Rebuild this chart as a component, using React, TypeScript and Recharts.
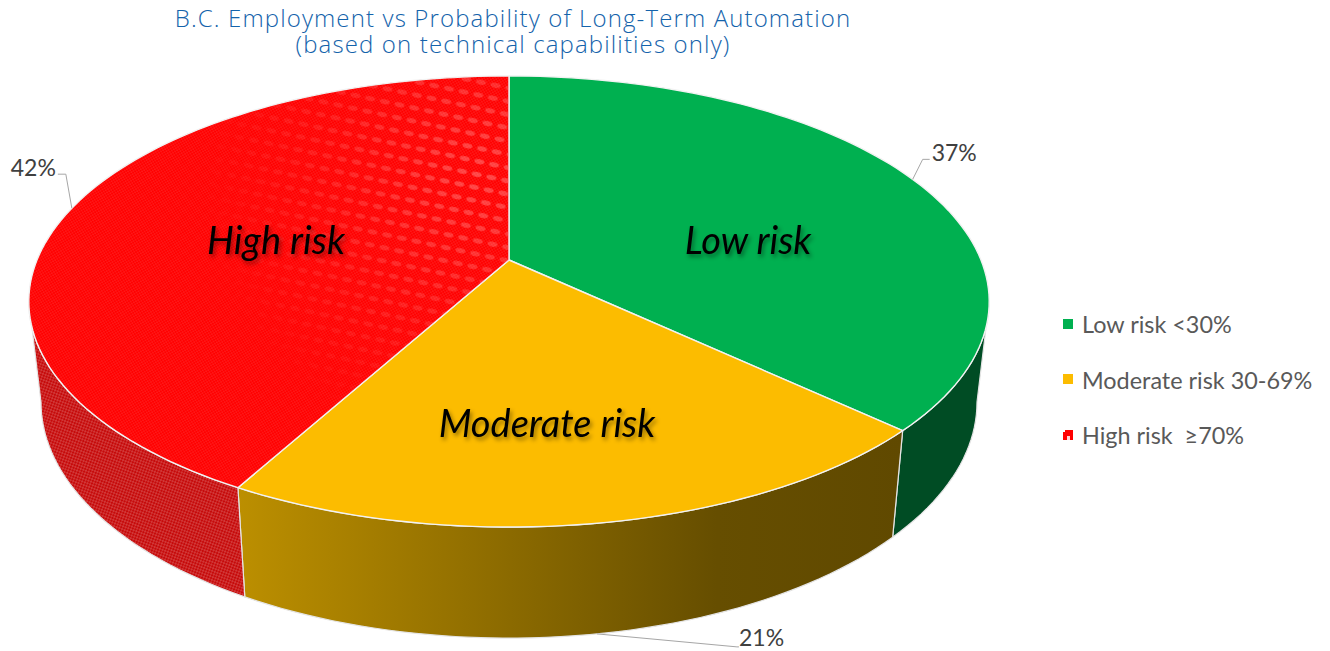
import { PieChart, Pie, Legend } from 'recharts';

const categories = ['Low risk', 'Moderate risk', 'High risk'];
const legendLabels = ['Low risk <30%', 'Moderate risk 30-69%', 'High risk  \u226570%'];
const shares = [37, 21, 42];

const topFills = ['#00b050', '#fcbc00', 'url(#redTop)'];
const wallFills = ['#004c24', 'url(#amberWall)', 'url(#redWall)'];
const sheenFills = [null, null, 'url(#redBlobs)'];

const pieData = categories.map((name, i) => ({
  name,
  value: shares[i],
  fill: topFills[i],
  wall: wallFills[i],
  sheen: sheenFills[i],
}));

const CX = 509;
const CY = 260;
const RADIUS = 472;

// fake 3D: the disc goes through a small perspective divide, the base disc sits lower
const TILT = 0.184;
const TOP_Y = 0.4617;
const BASE_X = 0.9746;
const BASE_Y = 0.483;
const BASE_DROP = 98.7;
// polar angles where the rim turns away from the viewer
const WALL_FROM = -10.6;
const WALL_TO = -169.4;

const RAD = Math.PI / 180;

const projectTop = (deg: number) => {
  const u = Math.cos(deg * RAD);
  const v = -Math.sin(deg * RAD);
  const w = 1 - TILT * v;
  return { x: CX + (RADIUS * u) / w, y: CY + (RADIUS * TOP_Y * v) / w };
};

const projectBase = (deg: number) => {
  const u = Math.cos(deg * RAD);
  const v = -Math.sin(deg * RAD);
  const w = 1 - TILT * v;
  return { x: CX + (RADIUS * BASE_X * u) / w, y: CY + BASE_DROP + (RADIUS * BASE_Y * v) / w };
};

const arcPoints = (from: number, to: number, project: (deg: number) => { x: number; y: number }) => {
  const steps = Math.max(2, Math.ceil(Math.abs(to - from) / 1.5));
  const pts: string[] = [];
  for (let i = 0; i <= steps; i++) {
    const p = project(from + ((to - from) * i) / steps);
    pts.push(`${p.x.toFixed(2)} ${p.y.toFixed(2)}`);
  }
  return pts;
};

const SliceShape = (props: any) => {
  const { startAngle, endAngle, fill, wall, sheen } = props;
  const top = `M${CX} ${CY} L${arcPoints(startAngle, endAngle, projectTop).join(' L')} Z`;

  const from = Math.min(startAngle, WALL_FROM);
  const to = Math.max(endAngle, WALL_TO);
  let side = null;
  if (from > to) {
    const d = [...arcPoints(from, to, projectTop), ...arcPoints(to, from, projectBase)];
    side = <path d={`M${d.join(' L')} Z`} fill={wall} stroke="#e4e4e4" strokeWidth={1.2} strokeLinejoin="round" />;
  }
  return (
    <g>
      {side}
      <path d={top} fill={fill} stroke="#f2f2f2" strokeWidth={1.4} strokeLinejoin="round" />
      {sheen && <path d={top} fill={sheen} mask="url(#sheenFade)" />}
    </g>
  );
};

// name position relative to the pie centre, and the elbow/end of each leader line
const nameOffsets = [[239, -21], [38, 162], [-233, -21]];
const leaderBends = [[10, -20], [140, 13], [-6, -34]];
const leaderEnds = [[17, -20], [142, 13], [-14, -34]];
const valueOffsets = [[19, -27], [142, 3], [-16, -41]];
const valueAnchors = ['start', 'start', 'end'];

const renderLabel = (props: any) => {
  const { midAngle, index, value, name } = props;
  const rim = index === 1 ? projectBase(midAngle) : projectTop(midAngle);
  const bend = leaderBends[index];
  const end = leaderEnds[index];
  const off = valueOffsets[index];
  return (
    <g>
      <text
        x={CX + nameOffsets[index][0]}
        y={CY + nameOffsets[index][1]}
        textAnchor="middle"
        dominantBaseline="central"
        fontFamily="Lato"
        fontStyle="italic"
        fontSize={38}
        fill="#000"
        style={{ filter: 'drop-shadow(2px 3px 2px rgba(0,0,0,0.4))' }}
      >
        {name}
      </text>
      <polyline
        points={`${rim.x},${rim.y} ${rim.x + bend[0]},${rim.y + bend[1]} ${rim.x + end[0]},${rim.y + end[1]}`}
        fill="none"
        stroke="#a6a6a6"
        strokeWidth={1}
      />
      <text
        x={rim.x + off[0]}
        y={rim.y + off[1]}
        textAnchor={valueAnchors[index] as any}
        dominantBaseline="central"
        fontFamily="Lato"
        fontSize={23}
        fill="#404040"
      >
        {value}%
      </text>
    </g>
  );
};

const renderLegend = ({ payload }: any) => (
  <div>
    {(payload || []).map((item: any) => (
      <div key={item.value} style={{ display: 'flex', alignItems: 'center', height: 55.5 }}>
        <svg width={19} height={11} style={{ flex: 'none' }}>
          <rect width={10} height={10} fill={item.value === 'High risk' ? 'url(#redIcon)' : item.color} />
        </svg>
        <span style={{ fontFamily: 'Lato', fontSize: 23.4, color: '#595959', whiteSpace: 'pre' }}>
          {legendLabels[categories.indexOf(item.value)]}
        </span>
      </div>
    ))}
  </div>
);

const titleStyle = { fontFamily: 'Open Sans', fontSize: 24, fontWeight: 300, letterSpacing: 1.13, fill: '#1463ab' };

export default function App() {
  return (
    <div style={{ position: 'absolute', left: 0, top: 0 }}>
      <PieChart width={1330} height={651} margin={{ top: 0, right: 0, bottom: 0, left: 0 }}>
        <defs>
          <pattern id="redTop" width={3.4} height={3.4} patternUnits="userSpaceOnUse" patternTransform="rotate(14)">
            <rect width={3.4} height={3.4} fill="#ff0000" />
            <circle cx={0.85} cy={0.85} r={0.42} fill="#ff9a9a" />
            <circle cx={2.55} cy={2.55} r={0.42} fill="#ff9a9a" />
          </pattern>
          <pattern id="redWall" width={4} height={4} patternUnits="userSpaceOnUse" patternTransform="rotate(-25)">
            <rect width={4} height={4} fill="#c60a0a" />
            <circle cx={1} cy={1} r={0.7} fill="#e58a8a" />
            <circle cx={3} cy={3} r={0.7} fill="#e58a8a" />
          </pattern>
          <pattern id="redBlobs" width={15} height={13} patternUnits="userSpaceOnUse" patternTransform="rotate(12)">
            <ellipse cx={7.5} cy={6.5} rx={5} ry={2.4} fill="#ff9a9a" fillOpacity={0.5} />
          </pattern>
          <radialGradient id="sheenGlow" gradientUnits="userSpaceOnUse" cx={480} cy={175} r={280}>
            <stop offset="0%" stopColor="#fff" stopOpacity={0.9} />
            <stop offset="55%" stopColor="#fff" stopOpacity={0.35} />
            <stop offset="100%" stopColor="#fff" stopOpacity={0} />
          </radialGradient>
          <mask id="sheenFade" maskUnits="userSpaceOnUse" x={0} y={0} width={1330} height={651}>
            <rect width={1330} height={651} fill="url(#sheenGlow)" />
          </mask>
          <pattern id="redIcon" width={10} height={10} patternUnits="userSpaceOnUse">
            <rect width={10} height={10} fill="#ff0000" />
            <rect x={4} y={6} width={3} height={4} fill="#ffd0d0" />
            <rect width={2} height={2} fill="#ffffff" />
          </pattern>
          <linearGradient id="amberWall" x1="0" y1="0" x2="1" y2="0">
            <stop offset="0%" stopColor="#bc8f00" />
            <stop offset="72%" stopColor="#664e00" />
            <stop offset="100%" stopColor="#604900" />
          </linearGradient>
        </defs>
        <text x={513} y={27} textAnchor="middle" {...titleStyle}>
          B.C. Employment vs Probability of Long-Term Automation
        </text>
        <text x={513} y={53} textAnchor="middle" {...titleStyle}>
          (based on technical capabilities only)
        </text>
        <Pie
          data={pieData}
          dataKey="value"
          nameKey="name"
          cx={CX}
          cy={CY}
          outerRadius={RADIUS}
          startAngle={90}
          endAngle={-270}
          stroke="none"
          shape={SliceShape}
          label={renderLabel}
          labelLine={false}
          isAnimationActive={false}
        />
        <Legend
          layout="vertical"
          align="right"
          verticalAlign="middle"
          itemSorter={null}
          content={renderLegend}
          wrapperStyle={{ position: 'absolute', left: 1063, top: 296.5, width: 265 }}
        />
      </PieChart>
    </div>
  );
}
